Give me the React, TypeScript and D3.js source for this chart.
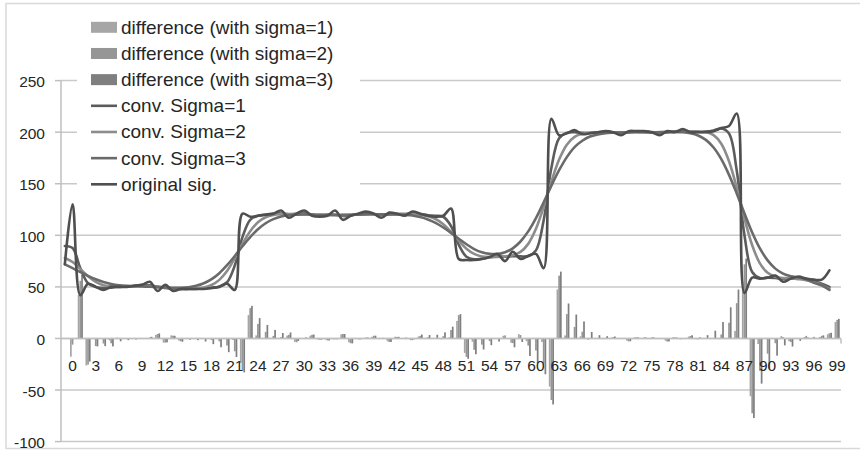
import React from 'react';
import * as d3 from 'd3';

const categories = [0,1,2,3,4,5,6,7,8,9,10,11,12,13,14,15,16,17,18,19,20,21,22,23,24,25,26,27,28,29,30,31,32,33,34,35,36,37,38,39,40,41,42,43,44,45,46,47,48,49,50,51,52,53,54,55,56,57,58,59,60,61,62,63,64,65,66,67,68,69,70,71,72,73,74,75,76,77,78,79,80,81,82,83,84,85,86,87,88,89,90,91,92,93,94,95,96,97,98,99];

const original = [
  72,130,42,53,50,47,50,50,50,51,
  52,55,46,52,46,48,48,48,48,49,
  50,53,47,121,118,119,120,121,124,117,
  121,124,119,118,119,124,115,119,121,123,
  121,117,122,121,119,123,121,119,118,119,
  126,77,76,76,77,79,82,75,84,77,
  80,82,68,213,197,199,202,198,199,200,
  201,200,197,201,201,201,200,197,201,200,
  203,200,200,200,201,204,206,218,44,59,
  58,59,61,55,58,60,58,57,57,66];

const conv1 = [
  89.7,87.7,68.2,53.5,49.9,48.9,49.3,49.9,50.4,51.1,
  52.0,51.6,50.0,49.0,48.1,47.7,47.9,48.1,48.4,49.1,
  50.5,54.5,70.7,98.3,115.0,118.9,120.1,121.1,121.2,120.3,
  120.8,121.3,120.1,119.1,119.8,120.0,118.7,119.0,120.7,121.4,
  120.5,119.7,120.3,120.6,120.7,121.2,120.7,119.5,118.9,118.0,
  109.0,91.0,79.2,76.7,77.4,78.8,79.4,79.2,79.8,79.6,
  79.9,85.4,114.7,165.5,194.1,199.3,199.9,199.3,199.2,199.9,
  200.2,199.5,199.1,199.9,200.7,200.5,199.6,199.1,199.8,200.8,
  201.2,200.7,200.2,200.5,201.7,203.5,198.7,162.8,100.0,64.4,
  58.6,59.0,58.7,57.7,57.9,58.6,57.5,55.5,53.0,50.0];

const conv2 = [
  78.0,74.1,67.3,60.4,54.9,51.7,50.5,50.5,50.5,50.8,
  51.0,50.7,50.0,49.3,48.7,48.4,48.2,48.5,49.5,51.8,
  56.8,65.4,77.7,91.6,103.9,112.6,117.5,119.7,120.5,120.7,
  120.7,120.5,120.2,119.9,119.7,119.6,119.6,119.8,120.2,120.4,
  120.5,120.4,120.5,120.5,120.6,120.5,119.9,118.6,115.8,110.8,
  103.4,94.8,87.0,82.0,79.5,78.9,79.0,79.5,80.7,83.9,
  91.7,106.3,127.7,152.1,173.4,187.8,195.4,198.4,199.4,199.7,
  199.7,199.7,199.8,200.0,200.1,200.0,200.0,200.0,200.1,200.4,
  200.6,200.8,200.5,200.1,197.1,188.8,171.8,146.1,116.5,90.4,
  72.8,63.6,59.8,58.5,58.2,57.5,56.5,54.5,52.0,48.0];

const conv3 = [
  71.8,68.2,64.4,60.7,57.4,54.7,52.8,51.6,51.0,50.7,
  50.4,50.1,49.8,49.4,49.2,49.2,49.7,51.0,53.5,57.5,
  63.3,71.0,79.9,89.4,98.3,105.9,111.7,115.7,118.2,119.5,
  120.0,120.2,120.1,119.9,119.8,119.7,119.8,119.9,120.1,120.3,
  120.4,120.4,120.4,120.2,119.8,119.2,117.7,115.4,112.1,107.6,
  102.4,96.7,91.3,86.7,83.5,82.0,81.9,83.6,87.4,94.0,
  103.8,116.7,132.0,148.2,163.1,175.8,185.5,191.7,195.8,197.8,
  199.1,199.5,199.7,199.9,200.0,199.9,199.9,199.9,200.1,200.3,
  199.9,198.9,196.8,192.5,185.1,173.8,158.6,140.6,121.2,102.8,
  87.3,75.7,67.7,62.8,60.3,59.1,57.5,54.0,51.5,47.0];

const diff1 = [
  -17.7,42.3,-26.2,-0.5,0.1,-1.9,0.7,0.1,-0.4,-0.1,
  0.0,3.4,-4.0,3.0,-2.1,0.3,0.1,-0.1,-0.4,-0.1,
  -0.5,-1.5,-23.7,22.7,3.0,0.1,-0.1,-0.1,2.8,-3.3,
  0.2,2.7,-1.1,-1.1,-0.8,4.0,-3.7,0.0,0.3,1.6,
  0.5,-2.7,1.7,0.4,-1.7,1.8,0.3,-0.5,-0.9,1.0,
  17.0,-14.0,-3.2,-0.7,-0.4,0.2,2.6,-4.2,4.2,-2.6,
  0.1,-3.4,-46.7,47.5,2.9,-0.3,2.1,-1.3,-0.2,0.1,
  0.8,0.5,-2.1,1.1,0.3,0.5,0.4,-2.1,1.2,-0.8,
  1.8,-0.7,-0.2,-0.5,-0.7,0.5,7.3,55.2,-56.0,-5.4,
  -0.6,0.0,2.3,-2.7,0.1,1.4,0.5,1.5,4.0,16.0];

const diff2 = [
  -6.0,55.9,-25.3,-7.4,-4.9,-4.7,-0.5,-0.5,-0.5,0.2,
  1.0,4.3,-4.0,2.7,-2.7,-0.4,-0.2,-0.5,-1.5,-2.8,
  -6.8,-12.4,-30.7,29.4,14.1,6.4,2.5,1.3,3.5,-3.7,
  0.3,3.5,-1.2,-1.9,-0.7,4.4,-4.6,-0.8,0.8,2.6,
  0.5,-3.4,1.5,0.5,-1.6,2.5,1.1,0.4,2.2,8.2,
  22.6,-17.8,-11.0,-6.0,-2.5,0.1,3.0,-4.5,3.3,-6.9,
  -11.7,-24.3,-59.7,60.9,23.6,11.2,6.6,-0.4,-0.4,0.3,
  1.3,0.3,-2.8,1.0,0.9,1.0,0.0,-3.0,0.9,-0.4,
  2.4,-0.8,-0.5,-0.1,3.9,15.2,34.2,71.9,-72.5,-31.4,
  -14.8,-4.6,1.2,-3.5,-0.2,2.5,1.5,2.5,5.0,18.0];

const diff3 = [
  0.2,61.8,-22.4,-7.7,-7.4,-7.7,-2.8,-1.6,-1.0,0.3,
  1.6,4.9,-3.8,2.6,-3.2,-1.2,-1.7,-3.0,-5.5,-8.5,
  -13.3,-18.0,-32.9,31.6,19.7,13.1,8.3,5.3,5.8,-2.5,
  1.0,3.8,-1.1,-1.9,-0.8,4.3,-4.8,-0.9,0.9,2.7,
  0.6,-3.4,1.6,0.8,-0.8,3.8,3.3,3.6,5.9,11.4,
  23.6,-19.7,-15.3,-10.7,-6.5,-3.0,0.1,-8.6,-3.4,-17.0,
  -23.8,-34.7,-64.0,64.8,33.9,23.2,16.5,6.3,3.2,2.2,
  1.9,0.5,-2.7,1.1,1.0,1.1,0.1,-2.9,0.9,-0.3,
  3.1,1.1,3.2,7.5,15.9,30.2,47.4,77.4,-77.2,-43.8,
  -29.3,-16.7,-6.7,-7.8,-2.3,0.9,0.5,3.0,5.5,19.0];

const yTicks = [250, 200, 150, 100, 50, 0, -50, -100];

const barSeries = [
  { name: 'difference (with sigma=1)', values: diff1, color: '#a6a6a6' },
  { name: 'difference (with sigma=2)', values: diff2, color: '#969696' },
  { name: 'difference (with sigma=3)', values: diff3, color: '#7f7f7f' },
];
const lineSeries = [
  { name: 'conv. Sigma=1', values: conv1, color: '#5c5c5c' },
  { name: 'conv. Sigma=2', values: conv2, color: '#8c8c8c' },
  { name: 'conv. Sigma=3', values: conv3, color: '#6a6a6a' },
  { name: 'original sig.', values: original, color: '#4f4f4f' },
];

const FONT = "'Liberation Sans', Arial, sans-serif";

export default function App() {
  const W = 860;
  const H = 451;
  const left = 61;
  const right = 841;
  // one leading slot before the first category (the line series start there)
  const slots = [-1, ...categories];
  const x = d3.scaleBand<number>().domain(slots).range([left, right]).padding(0);
  const bw = x.bandwidth();
  const y = d3.scaleLinear().domain([-100, 250]).range([441.6, 80.6]);

  const gap = (bw * 1.5) / 4.5;
  const inner = d3.scaleBand<number>().domain([0, 1, 2]).range([gap / 2, bw - gap / 2]).padding(0);

  const lineGen = (vals: number[]) =>
    d3
      .line<number>()
      .x((_, i) => (x(slots[i]) as number) + bw / 2)
      .y((v) => y(v))
      .curve(d3.curveCatmullRom.alpha(0.5))(vals) as string;

  const legendRows = [
    ...barSeries.map((s) => ({ name: s.name, color: s.color, kind: 'bar' })),
    ...lineSeries.map((s) => ({ name: s.name, color: s.color, kind: 'line' })),
  ];
  const legendY0 = 27.3;
  const legendStep = 26.17;

  return (
    <svg width={W} height={H} style={{ position: 'absolute', left: 0, top: 0, background: '#fff' }} fontFamily={FONT}>
      <rect x={0} y={0} width={W} height={H} fill="#ffffff" />
      <rect x={6} y={3.5} width={900} height={445} fill="none" stroke="#d9d9d9" strokeWidth={1.5} />

      {/* gridlines */}
      {yTicks.map((t) => (
        <line key={'g' + t} x1={left} x2={right} y1={y(t)} y2={y(t)} stroke="#c9c9c9" strokeWidth={1.5} />
      ))}
      {/* y ticks & labels */}
      {yTicks.map((t) => (
        <g key={'t' + t}>
          <line x1={55} x2={left} y1={y(t)} y2={y(t)} stroke="#bfbfbf" strokeWidth={1.5} />
          <text x={45} y={y(t) + 1} textAnchor="end" dominantBaseline="central" fontSize={15.5} fill="#262626">
            {t}
          </text>
        </g>
      ))}
      <line x1={left} x2={left} y1={y(250)} y2={y(-100)} stroke="#bfbfbf" strokeWidth={1.5} />

      {/* bars */}
      {barSeries.map((s, si) => (
        <g key={s.name}>
          {s.values.map((v, i) => {
            const bx = (x(categories[i]) as number) + (inner(si) as number);
            const y0 = y(0);
            const y1 = y(v);
            return (
              <rect
                key={i}
                x={bx}
                y={Math.min(y0, y1)}
                width={inner.bandwidth()}
                height={Math.abs(y1 - y0)}
                fill={s.color}
              />
            );
          })}
        </g>
      ))}

      {/* category axis at 0 */}
      <line x1={left} x2={right} y1={y(0)} y2={y(0)} stroke="#bfbfbf" strokeWidth={1.5} />
      <line x1={right} x2={right} y1={y(0)} y2={y(0) + 5} stroke="#bfbfbf" strokeWidth={1.5} />
      {categories
        .filter((c) => c % 3 === 0)
        .map((c) => (
          <text
            key={'x' + c}
            x={(x(c) as number) + bw / 2}
            y={365}
            textAnchor="middle"
            dominantBaseline="central"
            fontSize={15.5}
            fill="#262626"
          >
            {c}
          </text>
        ))}

      {/* lines */}
      {lineSeries.map((s) => (
        <path
          key={s.name}
          d={lineGen(s.values)}
          fill="none"
          stroke={s.color}
          strokeWidth={2.6}
          strokeLinejoin="round"
          strokeLinecap="round"
        />
      ))}

      {/* legend */}
      <rect x={77} y={9} width={283} height={188} fill="#ffffff" />
      {legendRows.map((r, i) => {
        const cy = legendY0 + i * legendStep;
        return (
          <g key={r.name}>
            {r.kind === 'bar' ? (
              <rect x={91} y={cy - 5.5} width={26} height={11} fill={r.color} />
            ) : (
              <line x1={91} x2={117} y1={cy} y2={cy} stroke={r.color} strokeWidth={2.6} />
            )}
            <text x={121} y={cy} dominantBaseline="central" fontSize={19} fill="#262626">
              {r.name}
            </text>
          </g>
        );
      })}
    </svg>
  );
}
